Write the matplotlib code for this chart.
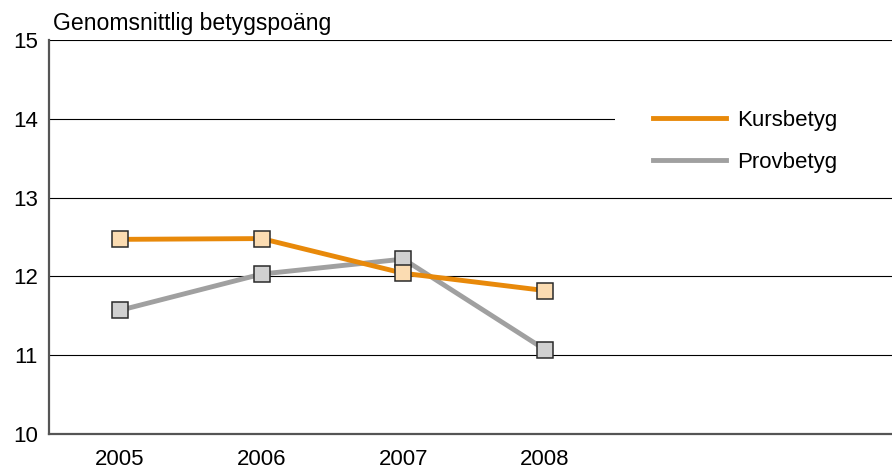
import matplotlib.pyplot as plt
from matplotlib.lines import Line2D
from matplotlib.patches import Rectangle

# Data
years = ['2005', '2006', '2007', '2008']
kurs = [12.47, 12.48, 12.04, 11.82]
prov = [11.57, 12.03, 12.22, 11.07]

plt.rcParams['font.family'] = ['Liberation Sans', 'DejaVu Sans']

fig = plt.figure(figsize=(8.92, 4.72), dpi=100)
ax = fig.add_axes([49/892, 38/472, 1 - 49/892, (434-40)/472])

x = range(len(years))
# grey first so the orange markers sit on top
ax.plot(x, prov, color='#a0a0a0', lw=3.5, zorder=3,
        marker='s', ms=11.8, mfc='#d0d0d0', mec='#2a2a2a', mew=1.1)
ax.plot(x, kurs, color='#e8890a', lw=3.5, zorder=4,
        marker='s', ms=11.8, mfc='#fbdcb2', mec='#2a2a2a', mew=1.1)

ax.set_xlim(-0.501, 5.448)
ax.set_ylim(10, 15)
ax.set_yticks([10, 11, 12, 13, 14, 15])
ax.set_xticks(list(x))
ax.set_xticklabels(years)
ax.tick_params(length=0, labelsize=16, colors='black')
ax.tick_params(axis='y', pad=8)
ax.tick_params(axis='x', pad=11)

ax.grid(axis='y', color='black', lw=0.8, zorder=1)
ax.set_axisbelow(True)
for s in ['top', 'right']:
    ax.spines[s].set_visible(False)
for s in ['left', 'bottom']:
    ax.spines[s].set_color('#555555')
    ax.spines[s].set_linewidth(1.6)

# white block behind the legend hides the 14 gridline there
ax.add_patch(Rectangle(((615-49)/843, 0.74), 1, 0.1, transform=ax.transAxes,
                       facecolor='white', edgecolor='none', zorder=2,
                       clip_on=False))

fig.text(53/892, 1 - 30/472, 'Genomsnittlig betygspoäng', fontsize=16.6,
         ha='left', va='baseline')

handles = [Line2D([], [], color='#e8890a', lw=3.5),
           Line2D([], [], color='#a0a0a0', lw=3.5)]
leg = ax.legend(handles, ['Kursbetyg', 'Provbetyg'], loc='upper left',
                bbox_to_anchor=((653-49)/843, 1 - (110-40)/394),
                fontsize=16, handlelength=3.3, handletextpad=0.5,
                labelspacing=0.95, borderpad=0, frameon=False,
                borderaxespad=0)
leg.set_zorder(5)

plt.savefig('out.png', dpi=100)
